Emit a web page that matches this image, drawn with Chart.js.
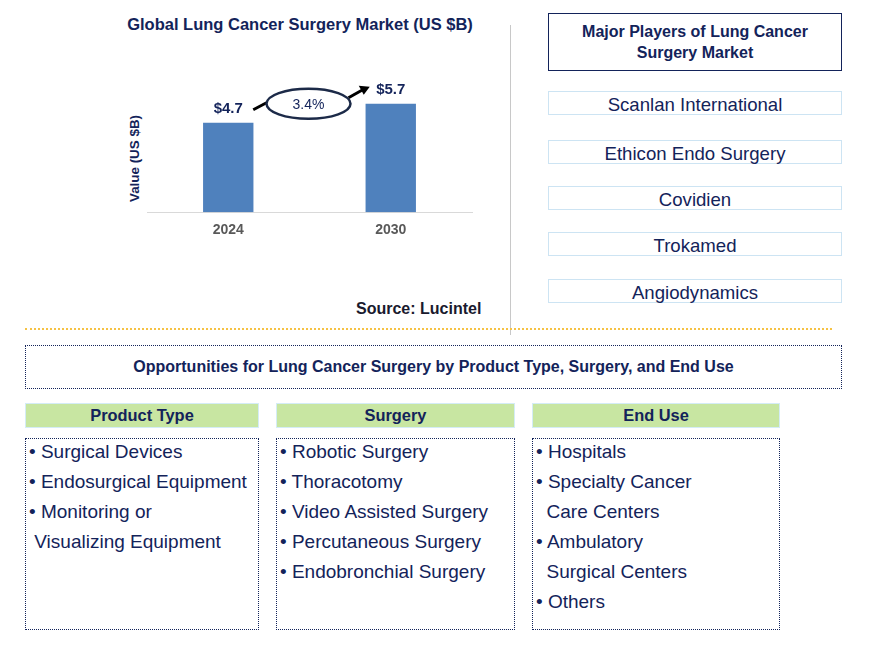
<!DOCTYPE html>
<html>
<head>
<meta charset="utf-8">
<script src="https://cdn.jsdelivr.net/npm/chart.js@4"></script>
<style>
  body { margin: 0; background: #fff; font-family: "Liberation Sans", Arial, sans-serif; color: #13235a; }
  #page { position: relative; width: 873px; height: 649px; overflow: hidden; }
  .abs { position: absolute; }
  #title { left: 100px; top: 15px; width: 400px; text-align: center; font-weight: bold; font-size: 16.5px; }
  #ylabel { left: 84px; top: 151px; width: 100px; text-align: center; font-weight: bold; font-size: 13.4px; transform: rotate(-90deg); }
  #source { left: 356px; top: 300px; font-weight: bold; font-size: 16px; color: #1a1a2e; }
  #vline { left: 510px; top: 25px; width: 0; height: 310px; border-left: 1px solid #c8c8c8; }
  #hline { left: 25px; top: 328px; width: 807px; height: 0; border-top: 2px dotted #f6c244; }
  #players-head { left: 548px; top: 13px; width: 292px; height: 56px; border: 1.5px solid #13235a; text-align: center; font-weight: bold; font-size: 16px; line-height: 21px; display: flex; align-items: center; justify-content: center; }
  .player { left: 548px; width: 292px; height: 22px; border: 1.5px solid #cde4f3; text-align: center; font-size: 18.6px; line-height: 25px; }
  #opp { left: 25px; top: 345px; width: 815px; height: 42px; border: 1.5px dotted #13235a; text-align: center; font-weight: bold; font-size: 16px; line-height: 42px; font-family: "Liberation Sans Narrow", "Liberation Sans", Arial, sans-serif; }
  .head { top: 403px; height: 23px; background: #c8e6a2; border: 1px solid #d4ecf6; text-align: center; font-weight: bold; font-size: 16.4px; line-height: 23px; }
  .list { top: 438px; height: 192px; border: 1.5px dotted #13235a; font-size: 19px; box-sizing: border-box; padding: 0 0 0 3px; }
  .list div { line-height: 30px; white-space: nowrap; position: relative; top: -2px; }
</style>
</head>
<body>
<div id="page">
  <div id="title" class="abs">Global Lung Cancer Surgery Market (US $B)</div>
  <div id="ylabel" class="abs">Value (US $B)</div>
  <canvas id="marketChart" class="abs" style="left:120px;top:31px" width="370" height="210"></canvas>
  <div id="source" class="abs">Source: Lucintel</div>
  <div id="vline" class="abs"></div>
  <div id="hline" class="abs"></div>
  <div id="players-head" class="abs">Major Players of Lung Cancer<br>Surgery Market</div>
  <div id="players"></div>
  <div id="opp" class="abs">Opportunities for Lung Cancer Surgery by Product Type, Surgery, and End Use</div>
  <div id="segments"></div>
</div>
<script>
// chart data
const years = ["2024", "2030"];
const marketValues = [4.7, 5.7];
const cagrText = "3.4%";

// side panels
const players = ["Scanlan International", "Ethicon Endo Surgery", "Covidien", "Trokamed", "Angiodynamics"];
const playerTops = [91, 140, 186, 232, 279];
const segmentHeads = ["Product Type", "Surgery", "End Use"];
const segmentItems = [
  ["• Surgical Devices", "• Endosurgical Equipment", "• Monitoring or", "&nbsp;Visualizing Equipment"],
  ["• Robotic Surgery", "• Thoracotomy", "• Video Assisted Surgery", "• Percutaneous Surgery", "• Endobronchial Surgery"],
  ["• Hospitals", "• Specialty Cancer", "&nbsp;&nbsp;Care Centers", "• Ambulatory", "&nbsp;&nbsp;Surgical Centers", "• Others"]
];
const segLefts = [25, 276, 532];
const segWidths = [232, 237, 246];

const playersDiv = document.getElementById("players");
players.forEach((p, i) => {
  const d = document.createElement("div");
  d.className = "abs player";
  d.style.top = playerTops[i] + "px";
  d.textContent = p;
  playersDiv.appendChild(d);
});

const segDiv = document.getElementById("segments");
segmentHeads.forEach((h, i) => {
  const head = document.createElement("div");
  head.className = "abs head";
  head.style.left = segLefts[i] + "px";
  head.style.width = segWidths[i] + "px";
  head.textContent = h;
  segDiv.appendChild(head);
  const list = document.createElement("div");
  list.className = "abs list";
  list.style.left = segLefts[i] + "px";
  list.style.width = (segWidths[i] + 2) + "px";
  list.innerHTML = segmentItems[i].map(t => `<div>${t}</div>`).join("");
  segDiv.appendChild(list);
});

// value labels + cagr bubble
const annotations = {
  id: "annotations",
  afterDatasetsDraw(chart) {
    const ctx = chart.ctx;
    const bars = chart.getDatasetMeta(0).data;
    ctx.save();
    ctx.fillStyle = "#13235a";
    ctx.font = "bold 15px 'Liberation Sans', Arial";
    ctx.textAlign = "center";
    ctx.textBaseline = "bottom";
    bars.forEach((b, i) => {
      ctx.fillText("$" + marketValues[i], b.x, b.y - 6);
    });

    const b1 = bars[0], b2 = bars[1];
    const cx = (b1.x + b2.x) / 2 - 1;
    const cy = b1.y - 19;
    // arrow
    ctx.strokeStyle = "#000";
    ctx.lineWidth = 3;
    ctx.beginPath();
    ctx.moveTo(b1.x + 25, b1.y - 13);
    ctx.lineTo(cx - 42, cy - 1);
    ctx.moveTo(cx + 40, cy - 6);
    ctx.lineTo(b2.x - 28, b2.y - 14);
    ctx.stroke();
    ctx.fillStyle = "#000";
    ctx.beginPath();
    const tipX = b2.x - 21, tipY = b2.y - 17;
    ctx.moveTo(tipX, tipY);
    ctx.lineTo(tipX - 11, tipY - 1);
    ctx.lineTo(tipX - 6, tipY + 8);
    ctx.closePath();
    ctx.fill();
    // ellipse
    ctx.fillStyle = "#fff";
    ctx.strokeStyle = "#1c2a48";
    ctx.lineWidth = 2.5;
    ctx.beginPath();
    ctx.ellipse(cx, cy, 42, 15, 0, 0, Math.PI * 2);
    ctx.fill();
    ctx.stroke();
    ctx.fillStyle = "#13235a";
    ctx.font = "14px 'Liberation Sans', Arial";
    ctx.textBaseline = "middle";
    ctx.fillText(cagrText, cx, cy + 1);
    ctx.restore();
  }
};

new Chart(document.getElementById("marketChart"), {
  type: "bar",
  data: {
    labels: years,
    datasets: [{
      data: marketValues,
      backgroundColor: "#4f81bd",
      categoryPercentage: 1,
      barPercentage: 0.31
    }]
  },
  options: {
    responsive: false,
    animation: false,
    layout: { padding: { left: 27, right: 18, top: 29, bottom: 0 } },
    plugins: { legend: { display: false }, tooltip: { enabled: false } },
    scales: {
      x: {
        grid: { display: false },
        border: { color: "#d9d9d9" },
        ticks: { color: "#595959", font: { family: "'Liberation Sans', Arial", size: 14, weight: "bold" }, padding: 2 }
      },
      y: { display: false, min: 0, max: 8 }
    }
  },
  plugins: [annotations]
});
</script>
</body>
</html>
